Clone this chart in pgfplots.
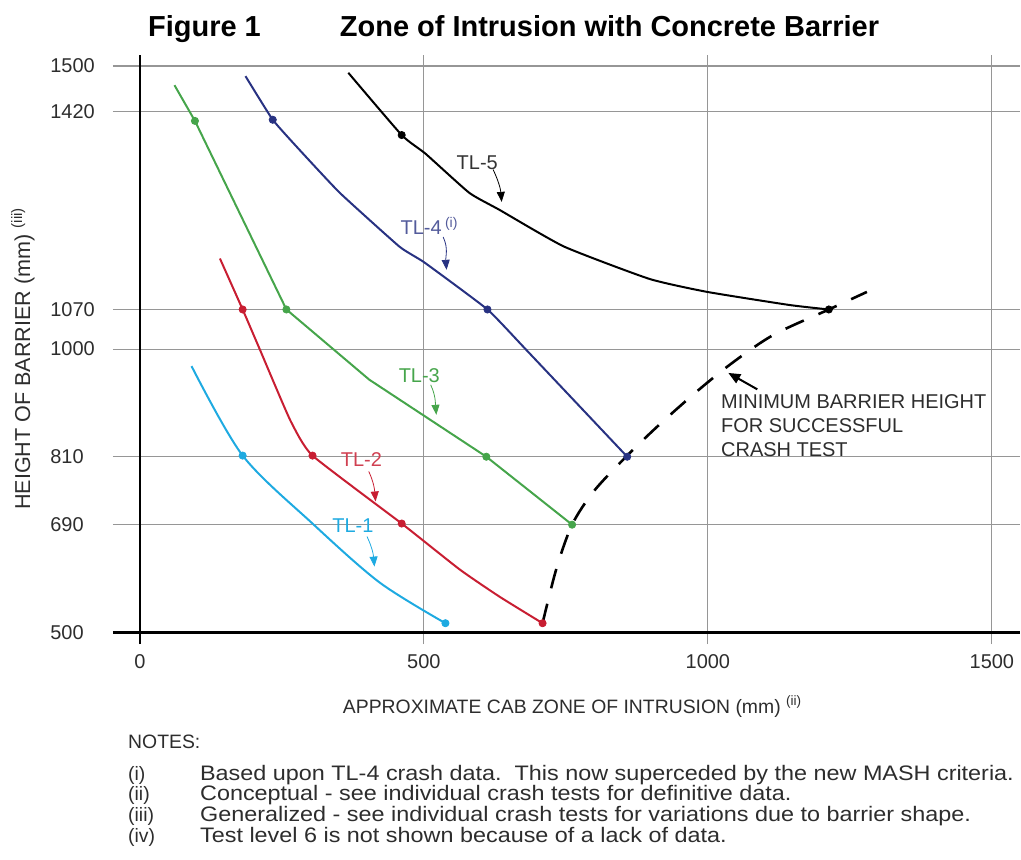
\documentclass[border=0pt]{standalone}
\usepackage{fontspec}
\setmainfont{Liberation Sans}
\usepackage{graphicx}
\usepackage{pgfplots}
\pgfplotsset{compat=1.18}
\usetikzlibrary{arrows.meta}
\definecolor{tlone}{RGB}{30,170,225}
\definecolor{tltwo}{RGB}{200,30,50}
\definecolor{tlthree}{RGB}{70,165,75}
\definecolor{tlfour}{RGB}{40,50,130}
\definecolor{gridc}{RGB}{150,150,150}
\definecolor{txt}{RGB}{45,45,45}
\newcommand{\note}[1]{\scalebox{1.115}[1]{#1}}
\begin{document}
\begin{tikzpicture}
\begin{axis}[
  at={(0,0)}, anchor=south west,
  scale only axis, width=454pt, height=295pt,
  xmin=-47.5, xmax=1549, ymin=479, ymax=1519.5,
  axis line style={draw=none},
  xtick={500,1000,1500}, ytick={690,810,1000,1070,1420,1500},
  extra x ticks={0}, extra y ticks={500},
  extra x tick style={major grid style={black,line width=1.3pt}},
  extra y tick style={major grid style={black,line width=1.3pt}},
  xmajorgrids, ymajorgrids,
  grid style={gridc, line width=0.6pt},
  major tick length=0pt,
  /pgf/number format/assume math mode=true,
  /pgf/number format/set thousands separator={},
  tick label style={font=\fontsize{10}{12}\selectfont, text=txt},
  yticklabel style={anchor=west, inner sep=0pt, xshift=-31.5pt},
  xticklabel style={anchor=north, inner sep=0pt, yshift=-5pt},
  clip=false,
]
% minimum barrier height (dashed)
\addplot[black, line width=1.3pt, dash pattern=on 10pt off 8pt, smooth, tension=0.5]
  coordinates {(709,516)(733,611)(761,690)(800,750)(858,812)(915,867)(985,929)(1046,978)(1117,1026)(1213,1070)(1280,1101)};
% TL-1
\addplot[tlone, line width=1pt, smooth, tension=0.5]
  coordinates {(91,970)(181,812)(304,692)(422,588)(538,516)};
\addplot[only marks, mark=*, mark size=1.8pt, tlone] coordinates {(181,812)(538,516)};
% TL-2
\addplot[tltwo, line width=1pt, smooth, tension=0.3]
  coordinates {(141,1160)(181,1070)(211,1000)(241,929)(267,870)(304,812)(461,692)(563,611)(633,563)(709,516)};
\addplot[only marks, mark=*, mark size=1.8pt, tltwo] coordinates {(181,1070)(304,812)(461,692)(709,516)};
% TL-3
\addplot[tlthree, line width=1pt]
  coordinates {(61,1466)(97,1403)(258,1070)(404,946)(610,810)(761,690)};
\addplot[only marks, mark=*, mark size=1.8pt, tlthree] coordinates {(97,1403)(258,1070)(610,810)(761,690)};
% TL-4
\addplot[tlfour, line width=1pt, smooth, tension=0.25]
  coordinates {(186,1482)(234,1405)(281,1352)(352,1276)(457,1181)(501,1153)(612,1070)(680,999)(858,810)};
\addplot[only marks, mark=*, mark size=1.8pt, tlfour] coordinates {(234,1405)(612,1070)(858,810)};
% TL-5
\addplot[black, line width=1pt, smooth, tension=0.3]
  coordinates {(367,1488)(461,1378)(503,1345)(580,1276)(633,1246)(747,1181)(897,1124)(999,1101)(1143,1078)(1213,1070)};
\addplot[only marks, mark=*, mark size=1.8pt, black] coordinates {(461,1378)(1213,1070)};

% labels
\node[text=black!80, font=\fontsize{10}{12}\selectfont] at (axis cs:594,1329) {TL-5};
\draw[black, line width=0.4pt, -{Triangle[length=5pt,width=4pt]}] (axis cs:622,1317) to[out=-65,in=95] (axis cs:637,1260);
\node[text=tlfour!80, font=\fontsize{10}{12}\selectfont] at (axis cs:510,1218) {TL-4\,\textsuperscript{(i)}};
\draw[tlfour, line width=0.4pt, -{Triangle[length=5pt,width=4pt]}] (axis cs:534,1198) to[out=-65,in=95] (axis cs:540,1140);
\node[text=tlthree, font=\fontsize{10}{12}\selectfont] at (axis cs:492,953) {TL-3};
\draw[tlthree, line width=0.4pt, -{Triangle[length=5pt,width=4pt]}] (axis cs:512,937) to[out=-65,in=95] (axis cs:522,884);
\node[text=tltwo!85, font=\fontsize{10}{12}\selectfont] at (axis cs:390,805) {TL-2};
\draw[tltwo, line width=0.4pt, -{Triangle[length=5pt,width=4pt]}] (axis cs:403,784) to[out=-65,in=95] (axis cs:415,731);
\node[text=tlone, font=\fontsize{10}{12}\selectfont] at (axis cs:375,689) {TL-1};
\draw[tlone, line width=0.4pt, -{Triangle[length=5pt,width=4pt]}] (axis cs:400,669) to[out=-65,in=95] (axis cs:413,616);
\node[text=txt, font=\fontsize{10}{12}\selectfont, anchor=west, align=left] at (axis cs:1011,865) {MINIMUM BARRIER HEIGHT\\FOR SUCCESSFUL\\CRASH TEST};
\draw[black, line width=1pt, -{Triangle[length=6pt,width=5pt]}] (axis cs:1087,929) -- (axis cs:1036,958);
\end{axis}

\begin{scope}[x=0.5pt,y=-0.5pt,shift={(-56.5pt,322.5pt)}]
\path[use as bounding box] (0,0) rectangle (1021,861);
\node[anchor=base west, inner sep=0pt, font=\fontsize{14.5}{17}\selectfont\bfseries] at (148,37) {Figure 1};
\node[anchor=base west, inner sep=0pt, font=\fontsize{14.5}{17}\selectfont\bfseries] at (340,37) {Zone of Intrusion with Concrete Barrier};
\node[anchor=base west, inner sep=0pt, text=txt, font=\fontsize{9.7}{12}\selectfont] at (343,714) {APPROXIMATE CAB ZONE OF INTRUSION (mm) \textsuperscript{(ii)}};
\node[rotate=90, inner sep=0pt, text=txt, font=\fontsize{10.8}{12}\selectfont] at (23,359) {HEIGHT OF BARRIER (mm) \textsuperscript{(iii)}};
\begin{scope}[every node/.style={anchor=base west, inner sep=0pt, text=txt, font=\fontsize{9.7}{11}\selectfont}]
\node at (128,749) {NOTES:};
\node at (128,781) {(i)};
\node at (128,802) {(ii)};
\node at (128,823) {(iii)};
\node at (128,844) {(iv)};
\end{scope}
\begin{scope}[every node/.style={anchor=base west, inner sep=0pt, text=txt, font=\fontsize{10.5}{11}\selectfont}]
\node at (200,781) {\note{Based upon TL-4 crash data.\ \ This now superceded by the new MASH criteria.}};
\node at (200,802) {\note{Conceptual - see individual crash tests for definitive data.}};
\node at (200,823) {\note{Generalized - see individual crash tests for variations due to barrier shape.}};
\node at (200,844) {\note{Test level 6 is not shown because of a lack of data.}};
\end{scope}
\end{scope}
\end{tikzpicture}
\end{document}
